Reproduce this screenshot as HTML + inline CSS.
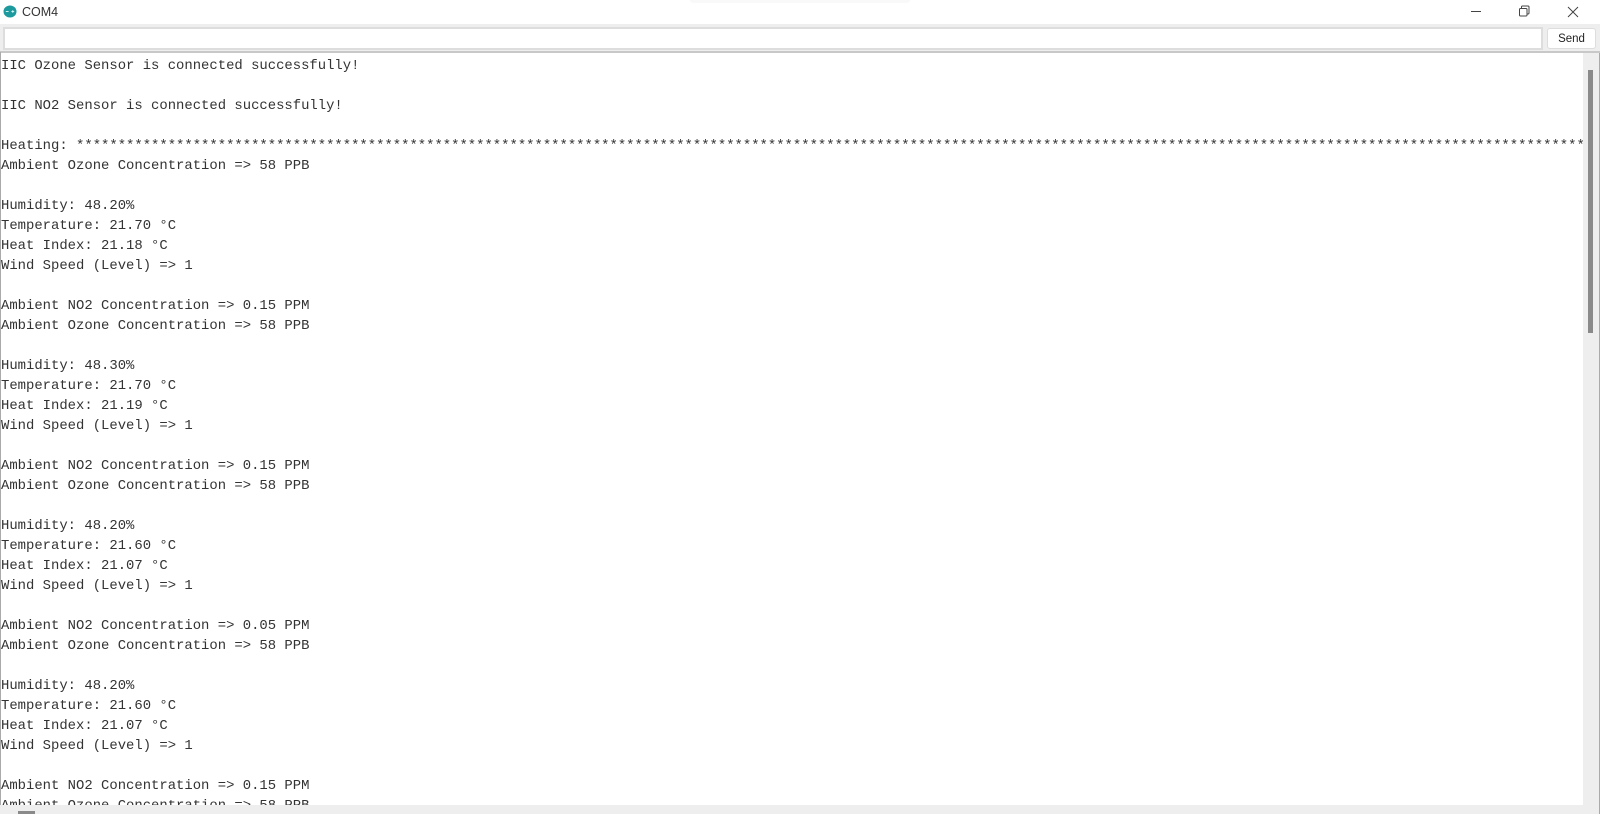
<!DOCTYPE html>
<html>
<head>
<meta charset="utf-8">
<style>
html,body{margin:0;padding:0;width:1600px;height:814px;overflow:hidden;background:#fff}
.a{position:absolute}
#out{position:absolute;left:1px;top:56px;width:1582px;height:749px;overflow:hidden;font:13.9px/20px "Liberation Mono",monospace;color:#333;white-space:pre;margin:0;filter:blur(.3px)}
</style>
</head>
<body>
<svg class="a" style="left:3px;top:5px" width="14" height="13" viewBox="0 0 15 14"><ellipse cx="7.5" cy="7" rx="7" ry="6.5" fill="#1d9a9e"/><path d="M3 7h3M9 7h3M10.5 5.5v3" stroke="#cfeeee" stroke-width="1"/></svg>
<div class="a" style="left:22px;top:4px;font:12.5px/16px 'Liberation Sans',sans-serif;color:#333">COM4</div>
<div class="a" style="left:690px;top:0;width:220px;height:3px;background:#f9f9f9;border-radius:0 0 8px 8px"></div>
<div class="a" style="left:1471px;top:11px;width:10px;height:1px;background:#444"></div>
<svg class="a" style="left:1517px;top:4px" width="14" height="14" viewBox="0 0 14 14" fill="none" stroke="#444" stroke-width="1"><rect x="2.5" y="4.5" width="7.5" height="7.5" rx="1"/><path d="M4.5 4.5V3a1 1 0 0 1 1-1H11a1 1 0 0 1 1 1v6a1 1 0 0 1-1 1h-1"/></svg>
<svg class="a" style="left:1566px;top:6px" width="14" height="12" viewBox="0 0 12 12" stroke="#444" stroke-width="1"><path d="M1 1L11 11M11 1L1 11"/></svg>
<div class="a" style="left:0;top:24px;width:1600px;height:28px;background:#eee"></div>
<div class="a" style="left:3px;top:27px;width:1536px;height:19px;background:#fff;border:2px solid #ddd"></div>
<div class="a" style="left:1547px;top:28px;width:47px;height:19px;background:#fff;border:1px solid #ddd;border-radius:3px;font:11.5px/20px 'Liberation Sans',sans-serif;color:#222;text-align:center">Send</div>
<div class="a" style="left:0;top:51px;width:1600px;height:2px;background:#c8c8c8"></div>
<div class="a" style="left:0;top:52px;width:1px;height:753px;background:#aaa"></div>
<pre id="out">IIC Ozone Sensor is connected successfully!

IIC NO2 Sensor is connected successfully!

Heating: *************************************************************************************************************************************************************************************************
Ambient Ozone Concentration =&gt; 58 PPB

Humidity: 48.20%
Temperature: 21.70 °C
Heat Index: 21.18 °C
Wind Speed (Level) =&gt; 1

Ambient NO2 Concentration =&gt; 0.15 PPM
Ambient Ozone Concentration =&gt; 58 PPB

Humidity: 48.30%
Temperature: 21.70 °C
Heat Index: 21.19 °C
Wind Speed (Level) =&gt; 1

Ambient NO2 Concentration =&gt; 0.15 PPM
Ambient Ozone Concentration =&gt; 58 PPB

Humidity: 48.20%
Temperature: 21.60 °C
Heat Index: 21.07 °C
Wind Speed (Level) =&gt; 1

Ambient NO2 Concentration =&gt; 0.05 PPM
Ambient Ozone Concentration =&gt; 58 PPB

Humidity: 48.20%
Temperature: 21.60 °C
Heat Index: 21.07 °C
Wind Speed (Level) =&gt; 1

Ambient NO2 Concentration =&gt; 0.15 PPM
Ambient Ozone Concentration =&gt; 58 PPB</pre>
<div class="a" style="left:1583px;top:53px;width:16px;height:761px;background:#eee"></div>
<div class="a" style="left:1588px;top:70px;width:5px;height:263px;background:#8a8a8a"></div>
<div class="a" style="left:1599px;top:53px;width:1px;height:761px;background:#aaa"></div>
<div class="a" style="left:0;top:805px;width:1583px;height:9px;background:#eee"></div>
<div class="a" style="left:18px;top:811px;width:17px;height:3px;background:#8a8a8a"></div>
</body>
</html>
